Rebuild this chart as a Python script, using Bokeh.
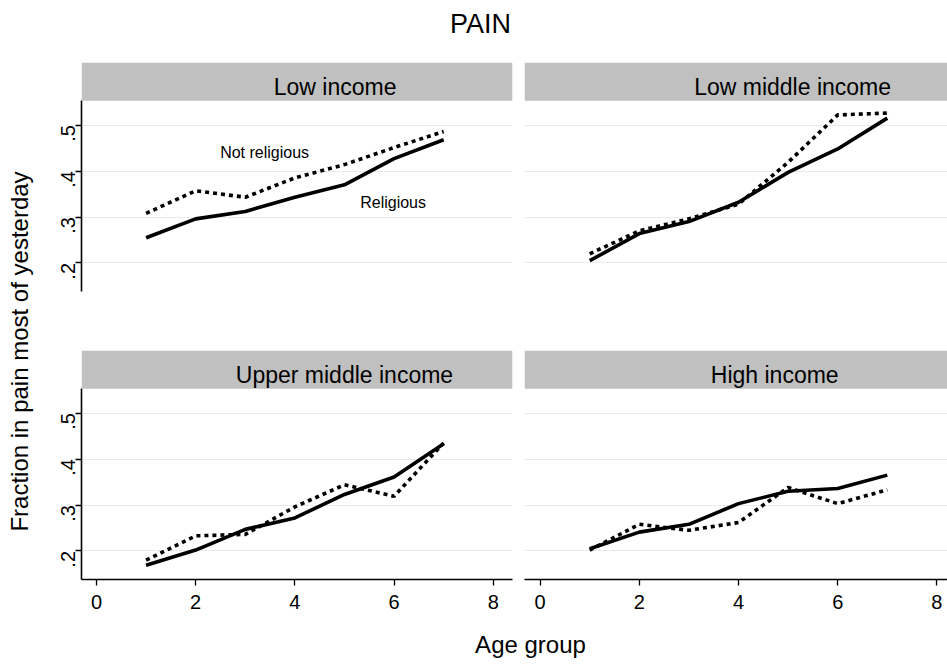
import math
from bokeh.plotting import figure
from bokeh.layouts import row, column
from bokeh.models import Range1d, BoxAnnotation, Label, FixedTicker, CustomJSTickFormatter, Grid
from bokeh.embed import file_html
from bokeh.resources import INLINE

# ---------------- data ----------------
age_group = [1, 2, 3, 4, 5, 6, 7]
panel_names = ["Low income", "Low middle income", "Upper middle income", "High income"]

religious_low = [0.255, 0.296, 0.312, 0.343, 0.370, 0.427, 0.468]
not_religious_low = [0.308, 0.357, 0.343, 0.385, 0.414, 0.451, 0.486]

religious_lowmid = [0.205, 0.264, 0.290, 0.332, 0.397, 0.448, 0.515]
not_religious_lowmid = [0.220, 0.270, 0.296, 0.328, 0.419, 0.522, 0.526]

religious_uppmid = [0.169, 0.202, 0.247, 0.272, 0.323, 0.361, 0.433]
not_religious_uppmid = [0.180, 0.233, 0.236, 0.296, 0.344, 0.319, 0.435]

religious_high = [0.205, 0.241, 0.258, 0.303, 0.330, 0.336, 0.365]
not_religious_high = [0.202, 0.258, 0.245, 0.262, 0.338, 0.303, 0.333]

y_ticks = [0.2, 0.3, 0.4, 0.5]
x_ticks = [0, 2, 4, 6, 8]

# ---------------- style / layout constants ----------------
FONT = "Liberation Sans"
Y0, Y1 = 0.138, 0.636          # y range incl. strip
STRIP_BOTTOM = 0.553
STRIP_MID = 0.583
PX_PER_X = 49.6
GRID_COLOR = "#e4ecef"
STRIP_COLOR = "#c0c0c0"
LW = 3.6


def make_panel(name, rel, notrel, width, height, mb_left, mb_right, mb_top, mb_bottom,
               x_start, show_y, show_x, label_x):
    frame_w = width - mb_left - mb_right
    x_end = x_start + frame_w / PX_PER_X
    p = figure(width=width, height=height,
               x_range=Range1d(x_start, x_end), y_range=Range1d(Y0, Y1),
               output_backend="svg", toolbar_location=None,
               min_border_left=mb_left, min_border_right=mb_right,
               min_border_top=mb_top, min_border_bottom=mb_bottom,
               x_axis_location="below" if show_x else None,
               y_axis_location="left" if show_y else None)
    p.outline_line_color = None
    p.background_fill_color = "white"
    p.border_fill_color = "white"
    for g in p.grid:
        g.visible = False
    grid = Grid(dimension=1, ticker=FixedTicker(ticks=y_ticks),
                grid_line_color=GRID_COLOR, grid_line_width=1.2)
    p.add_layout(grid)

    if show_y:
        ax = p.yaxis[0]
        ax.ticker = FixedTicker(ticks=y_ticks)
        ax.formatter = CustomJSTickFormatter(code="return tick.toFixed(1).replace(/^0/, '');")
        ax.major_label_orientation = math.pi / 2
        ax.bounds = (Y0, STRIP_BOTTOM)
        ax.major_label_standoff = 7
    if show_x:
        ax = p.xaxis[0]
        ax.ticker = FixedTicker(ticks=x_ticks)
        ax.major_label_standoff = 9
    for ax in p.axis:
        ax.axis_line_color = "black"
        ax.axis_line_width = 1.6
        ax.major_tick_line_color = "black"
        ax.major_tick_line_width = 1.3
        ax.major_tick_out = 6
        ax.major_tick_in = 0
        ax.minor_tick_line_color = None
        ax.major_label_text_font = FONT
        ax.major_label_text_font_size = "20px"
        ax.major_label_text_color = "black"

    strip = BoxAnnotation(bottom=STRIP_BOTTOM, fill_color=STRIP_COLOR, fill_alpha=1.0,
                          line_color=None)
    p.add_layout(strip)
    p.add_layout(Label(x=label_x, y=STRIP_MID, text=name, text_align="center",
                       text_baseline="middle", text_font=FONT, text_font_size="23px",
                       text_color="black"))

    p.line(age_group, rel, line_color="black", line_width=LW)
    p.line(age_group, notrel, line_color="black", line_width=LW, line_dash="4 4")
    return p


# page coords: title 0..50, top row 50..300, bottom row 300..625, x label 625..664
# columns: y title 0..36, left panels 36..518, right panels 518..947
tl = make_panel(panel_names[0], religious_low, not_religious_low,
                482, 250, 45, 6, 12, 9, -0.302, True, False, 4.81)
tl.add_layout(Label(x=3.39, y=0.44, text="Not religious", text_align="center",
                    text_baseline="middle", text_font=FONT, text_font_size="16px",
                    text_color="black"))
tl.add_layout(Label(x=5.98, y=0.332, text="Religious", text_align="center",
                    text_baseline="middle", text_font=FONT, text_font_size="16px",
                    text_color="black"))

tr = make_panel(panel_names[1], religious_lowmid, not_religious_lowmid,
                429, 250, 6, 0, 12, 9, -0.315, False, False, 5.09)
bl = make_panel(panel_names[2], religious_uppmid, not_religious_uppmid,
                482, 325, 45, 6, 50, 46, -0.302, True, True, 5.0)
br = make_panel(panel_names[3], religious_high, not_religious_high,
                429, 325, 6, 0, 50, 46, -0.315, False, True, 4.73)


def text_fig(width, height):
    f = figure(width=width, height=height, x_range=Range1d(0, width), y_range=Range1d(0, height),
               output_backend="svg", toolbar_location=None, min_border=0,
               x_axis_location=None, y_axis_location=None)
    f.outline_line_color = None
    f.background_fill_color = "white"
    f.border_fill_color = "white"
    for g in f.grid:
        g.visible = False
    return f


title_fig = text_fig(947, 50)
title_fig.add_layout(Label(x=480, y=27, text="PAIN", text_align="center", text_baseline="middle",
                           text_font=FONT, text_font_size="27px", text_color="black"))

ylab_fig = text_fig(36, 575)
ylab_fig.add_layout(Label(x=19, y=274, text="Fraction in pain most of yesterday", angle=math.pi / 2,
                          text_align="center", text_baseline="middle",
                          text_font=FONT, text_font_size="24px", text_color="black"))

xlab_fig = text_fig(947, 39)
xlab_fig.add_layout(Label(x=530, y=20, text="Age group", text_align="center", text_baseline="middle",
                          text_font=FONT, text_font_size="24px", text_color="black"))

layout = column(title_fig,
                row(ylab_fig, column(row(tl, tr), row(bl, br))),
                xlab_fig)

open("out.html", "w").write(file_html(layout, INLINE))
